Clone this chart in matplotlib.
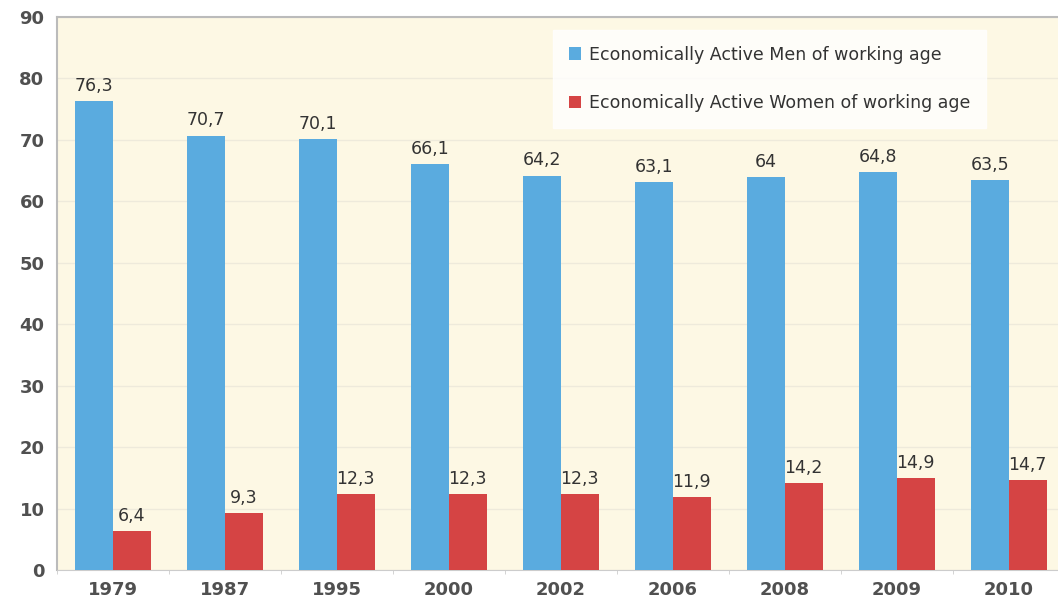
import numpy as np
import matplotlib
matplotlib.use("Agg")
import matplotlib.pyplot as plt

years = ["1979", "1987", "1995", "2000", "2002", "2006", "2008", "2009", "2010"]
men = [76.3, 70.7, 70.1, 66.1, 64.2, 63.1, 64, 64.8, 63.5]
women = [6.4, 9.3, 12.3, 12.3, 12.3, 11.9, 14.2, 14.9, 14.7]
men_labels = ["76,3", "70,7", "70,1", "66,1", "64,2", "63,1", "64", "64,8", "63,5"]
women_labels = ["6,4", "9,3", "12,3", "12,3", "12,3", "11,9", "14,2", "14,9", "14,7"]

blue = "#5aabdf"
red = "#d54444"

fig = plt.figure(figsize=(10.58, 6), dpi=100)
ax = fig.add_axes([57 / 1058, 30 / 600, 1008 / 1058, 553 / 600])
ax.set_facecolor("#fdf8e4")

x = np.arange(len(years))
w = 0.335
b1 = ax.bar(x - w / 2, men, w, color=blue, label="Economically Active Men of working age", zorder=3)
b2 = ax.bar(x + w / 2, women, w, color=red, label="Economically Active Women of working age", zorder=3)

for rect, lab in zip(b1, men_labels):
    ax.text(rect.get_x() + rect.get_width() / 2, rect.get_height() + 1.0, lab,
            ha="center", va="bottom", fontsize=12.5, color="#333333")
for rect, lab in zip(b2, women_labels):
    ax.text(rect.get_x() + rect.get_width() / 2, rect.get_height() + 1.0, lab,
            ha="center", va="bottom", fontsize=12.5, color="#333333")

ax.set_xlim(-0.5, len(years) - 0.5)
ax.set_ylim(0, 90)
ax.set_yticks(range(0, 91, 10))
ax.set_xticks(x)
ax.set_xticklabels(years)
ax.set_xticks(np.arange(-0.5, len(years), 1), minor=True)
ax.tick_params(axis="x", which="major", length=0, labelsize=13, labelcolor="#505050", pad=8)
ax.tick_params(axis="x", which="minor", length=3, color="#cccccc")
ax.tick_params(axis="y", length=0, labelsize=13, labelcolor="#505050", pad=9)
for t in ax.get_xticklabels() + ax.get_yticklabels():
    t.set_fontweight("bold")

ax.yaxis.grid(True, color="#eeeadb", linewidth=1, zorder=0)
for s in ["left", "top"]:
    ax.spines[s].set_color("#bbbbbb")
    ax.spines[s].set_linewidth(1.5)
ax.spines["bottom"].set_color("#cccccc")
ax.spines["right"].set_visible(False)

leg = ax.legend(loc="upper left", bbox_to_anchor=(496 / 1008, 1 - 13 / 553), borderaxespad=0,
                fontsize=12.5, frameon=True, fancybox=False, handlelength=0.7, handleheight=0.7,
                labelspacing=1.75, borderpad=0.9, handletextpad=0.5, edgecolor="white")
leg.get_frame().set_facecolor("white")
for t in leg.get_texts():
    t.set_color("#333333")

fig.savefig("out.png", dpi=100)
